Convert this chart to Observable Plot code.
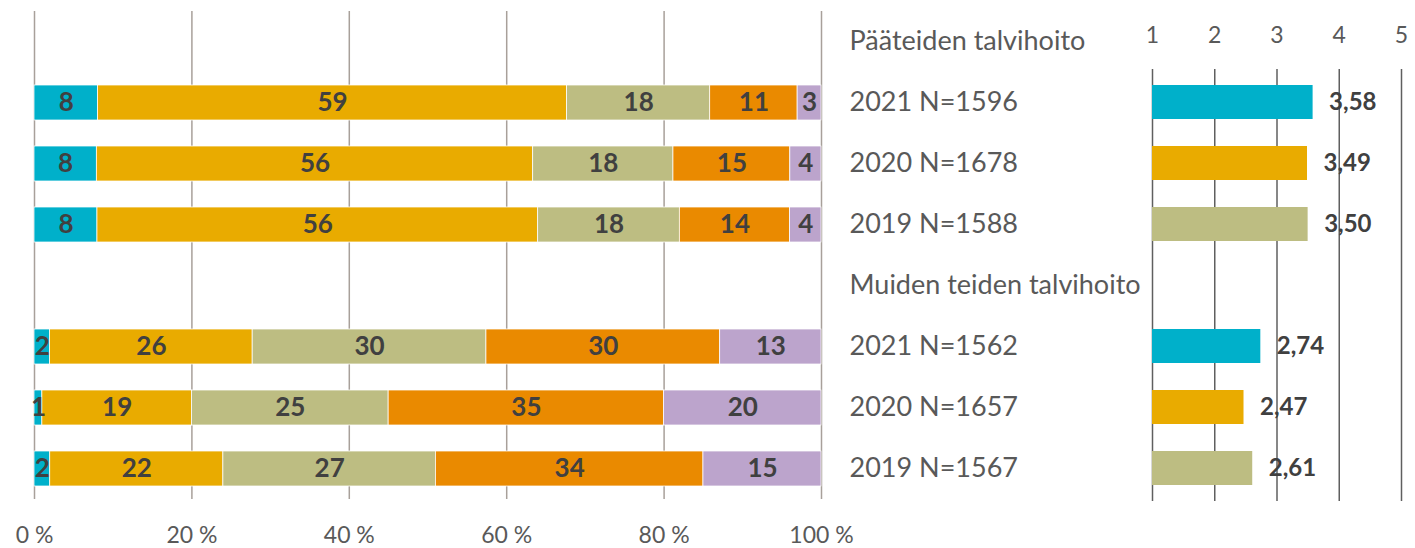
<!DOCTYPE html>
<html><head><meta charset="utf-8">
<script src="https://cdn.jsdelivr.net/npm/d3@7"></script>
<script src="https://cdn.jsdelivr.net/npm/@observablehq/plot@0.6"></script>
<style>
body{margin:0;background:#fff;}
#wrap{position:relative;width:1415px;height:548px;font-family:Lato,sans-serif;overflow:hidden;}
#left,#right{position:absolute;top:0;}
#left{left:0}
#right{left:840px}
</style></head><body><div id="wrap"><div id="left"></div><div id="right"></div></div>
<script>
// Row labels (band order top to bottom)
const rows = ["Pääteiden talvihoito","2021 N=1596","2020 N=1678","2019 N=1588",
              "Muiden teiden talvihoito","2021 N=1562","2020 N=1657","2019 N=1567"];
const barRows = [rows[1], rows[2], rows[3], rows[5], rows[6], rows[7]];
const years = ["2021","2020","2019","2021","2020","2019"];
// Response categories (1..5), percent shares per row
const categories = [1, 2, 3, 4, 5];
const shares = [
  [8, 59, 18, 11, 3],
  [8, 56, 18, 15, 4],
  [8, 56, 18, 14, 4],
  [2, 26, 30, 30, 13],
  [1, 19, 25, 35, 20],
  [2, 22, 27, 34, 15]
];
// Mean scores (scale 1–5)
const means = [3.58, 3.49, 3.50, 2.74, 2.47, 2.61];
const pctTicks = [0, 20, 40, 60, 80, 100];
const meanTicks = [1, 2, 3, 4, 5];
const catColors = ["#00B0CA", "#E9AB00", "#BDBD82", "#EA8A00", "#BCA4CC"];
const yearColors = {"2021": "#00B0CA", "2020": "#E9AB00", "2019": "#BDBD82"};

const stacked = barRows.flatMap((r, i) => shares[i].map((v, j) => ({row: r, cat: categories[j], value: v})));
const stackOpts = {x: "value", y: "row", z: "cat", offset: "normalize"};

const left = Plot.plot({
  width: 860, height: 548,
  marginLeft: 34, marginRight: 39, marginTop: 11, marginBottom: 49,
  style: {fontFamily: "Lato, sans-serif", background: "transparent"},
  x: {domain: [0, 1], label: null},
  y: {domain: rows, paddingInner: 0.43, paddingOuter: 0.215, axis: null},
  color: {domain: categories, range: catColors},
  marks: [
    Plot.ruleX(pctTicks.map(d => d / 100), {stroke: "#A8A09A", strokeWidth: 1.5}),
    Plot.barX(stacked, Plot.stackX({...stackOpts, fill: "cat", stroke: "white", strokeWidth: 0.75})),
    Plot.text(stacked, Plot.stackX({...stackOpts, text: "value", fill: "#404040", fontSize: 26, fontWeight: "bold"})),
    Plot.axisX(pctTicks.map(d => d / 100), {anchor: "bottom", tickSize: 0, tickPadding: 27, fontSize: 23,
      color: "#595959", tickFormat: d => Math.round(d * 100) + " %", label: null})
  ]
});
document.getElementById("left").append(left);

const meanData = barRows.map((r, i) => ({row: r, year: years[i], mean: means[i]}));
const right = Plot.plot({
  width: 575, height: 548,
  marginLeft: 312, marginRight: 14, marginTop: 8, marginBottom: 47,
  style: {fontFamily: "Lato, sans-serif", background: "transparent", overflow: "visible"},
  x: {domain: [1, 5], label: null},
  y: {domain: rows, paddingInner: 0.45, paddingOuter: 0.225, axis: null},
  marks: [
    Plot.ruleX(meanTicks, {stroke: "#5F5F5F", strokeWidth: 1.5, insetTop: 61}),
    Plot.barX(meanData, {x1: 1, x2: "mean", y: "row", fill: d => yearColors[d.year]}),
    Plot.text(meanData, {x: "mean", y: "row", text: d => d.mean.toFixed(2).replace(".", ","),
      dx: 16, textAnchor: "start", fontWeight: "bold", fontSize: 24, fill: "#404040"}),
    Plot.text(rows, {y: d => d, text: d => d, frameAnchor: "left", dx: -303, textAnchor: "start",
      fontSize: 27, fill: "#595959"}),
    Plot.axisX(meanTicks, {anchor: "top", tickSize: 0, tickPadding: 0, dy: 34, fontSize: 23,
      color: "#595959", label: null})
  ]
});
document.getElementById("right").append(right);
</script></body></html>
